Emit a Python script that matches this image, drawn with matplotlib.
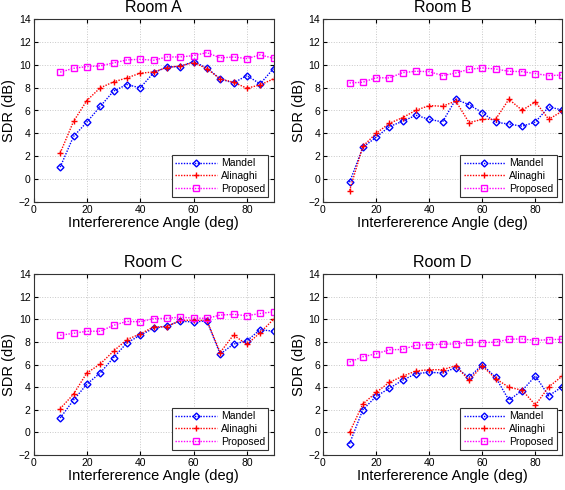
import matplotlib
matplotlib.use("Agg")
import matplotlib.pyplot as plt

plt.rcParams['font.family'] = ['Liberation Sans', 'DejaVu Sans']

angles = [10, 15, 20, 25, 30, 35, 40, 45, 50, 55, 60, 65, 70, 75, 80, 85, 90]
rooms = ["Room A", "Room B", "Room C", "Room D"]

mandel_A = [1.05, 3.73, 4.98, 6.35, 7.69, 8.27, 7.98, 9.29, 9.81, 9.84, 10.28, 9.72, 8.76, 8.41, 9.05, 8.33, 9.67]
alinaghi_A = [2.28, 5.04, 6.87, 7.98, 8.5, 8.85, 9.26, 9.37, 9.75, 9.9, 10.19, 9.67, 8.76, 8.47, 7.95, 8.24, 8.76]
proposed_A = [9.35, 9.69, 9.84, 9.9, 10.16, 10.42, 10.48, 10.39, 10.68, 10.68, 10.8, 11.06, 10.6, 10.68, 10.54, 10.86, 10.57]

mandel_B = [-0.28, 2.78, 3.66, 4.59, 5.06, 5.58, 5.23, 5.0, 6.98, 6.51, 5.81, 4.97, 4.82, 4.62, 5.0, 6.31, 6.05]
alinaghi_B = [-1.0, 2.87, 4.0, 4.88, 5.38, 6.02, 6.43, 6.37, 6.83, 4.94, 5.23, 5.23, 6.98, 6.02, 6.75, 5.23, 5.93]
proposed_B = [8.41, 8.47, 8.87, 8.85, 9.31, 9.43, 9.4, 9.05, 9.28, 9.6, 9.72, 9.63, 9.43, 9.4, 9.22, 9.05, 9.1]

mandel_C = [1.27, 2.85, 4.26, 5.25, 6.6, 7.91, 8.58, 9.2, 9.4, 9.84, 9.75, 9.87, 6.92, 7.8, 8.09, 9.08, 8.94]
alinaghi_C = [2.09, 3.38, 5.25, 6.04, 7.18, 8.2, 8.7, 9.32, 9.35, 9.9, 9.9, 9.9, 7.06, 8.61, 7.77, 8.82, 9.99]
proposed_C = [8.58, 8.76, 8.94, 8.94, 9.46, 9.81, 9.78, 10.05, 10.08, 10.19, 10.1, 10.08, 10.37, 10.43, 10.31, 10.51, 10.66]

mandel_D = [-1.0, 2.0, 3.18, 3.9, 4.61, 5.19, 5.31, 5.25, 5.72, 4.87, 5.98, 4.87, 2.85, 3.7, 4.99, 3.23, 4.02]
alinaghi_D = [0.0, 2.5, 3.53, 4.43, 4.96, 5.43, 5.54, 5.54, 5.89, 4.61, 5.87, 4.75, 3.99, 3.73, 2.42, 4.02, 4.96]
proposed_D = [6.22, 6.68, 6.95, 7.3, 7.33, 7.71, 7.74, 7.8, 7.82, 7.97, 7.94, 7.97, 8.23, 8.26, 8.12, 8.2, 8.23]

series = {
    "Room A": (mandel_A, alinaghi_A, proposed_A),
    "Room B": (mandel_B, alinaghi_B, proposed_B),
    "Room C": (mandel_C, alinaghi_C, proposed_C),
    "Room D": (mandel_D, alinaghi_D, proposed_D),
}

xticks = [0, 20, 40, 60, 80]
yticks = [-2, 0, 2, 4, 6, 8, 10, 12, 14]

fig = plt.figure(figsize=(5.65, 4.9), dpi=100)
W, H = 565, 490
pos = {
    "Room A": (33.5, 19, 240, 183),
    "Room B": (323, 19, 239, 183),
    "Room C": (33.5, 274, 240, 181),
    "Room D": (323, 274, 239, 181),
}

dots = (0, (1.0, 1.0))

for room in rooms:
    x0, y0, w, h = pos[room]
    ax = fig.add_axes([x0 / W, 1 - (y0 + h) / H, w / W, h / H])
    m, a, p = series[room]
    ax.plot(angles, m, linestyle=dots, color='blue', marker='D', markersize=3.5,
            markerfacecolor='none', markeredgecolor='blue', linewidth=1.0, label='Mandel')
    ax.plot(angles, a, linestyle=dots, color='red', marker='+', markersize=5,
            markeredgewidth=1.0, linewidth=1.0, label='Alinaghi')
    ax.plot(angles, p, linestyle=dots, color='magenta', marker='s', markersize=4,
            markerfacecolor='none', markeredgecolor='magenta', linewidth=1.0, label='Proposed')
    ax.set_xlim(0, 90)
    ax.set_ylim(-2, 14)
    ax.set_xticks(xticks)
    ax.set_yticks(yticks)
    ax.tick_params(labelsize=7.5, direction='in', length=3, pad=2, top=True, right=True)
    ax.grid(True, linestyle=':', color='#c8c8c8', linewidth=0.7)
    ax.set_title(room, fontsize=11.5, pad=5)
    ax.set_xlabel("Interfererence Angle (deg)", fontsize=10.5, labelpad=1)
    ax.set_ylabel("SDR (dB)", fontsize=10.5, labelpad=2)
    for s in ax.spines.values():
        s.set_linewidth(0.8)
        s.set_color('#333333')
    leg = ax.legend(loc='lower right', fontsize=7.5, fancybox=False, framealpha=1,
                    edgecolor='#333333', handlelength=4.0, borderpad=0.3,
                    labelspacing=0.25, handletextpad=0.4, borderaxespad=0.5)
    leg.get_frame().set_linewidth(0.8)

fig.savefig("out.png", dpi=100)
